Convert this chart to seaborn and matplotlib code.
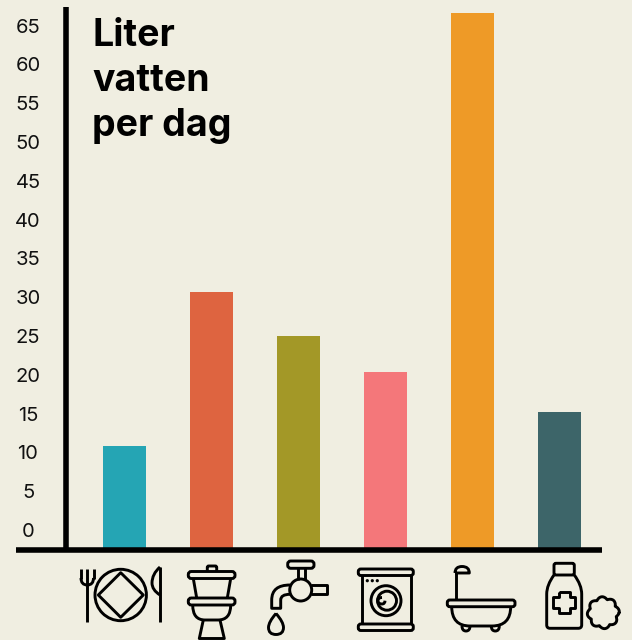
import numpy as np
import pandas as pd
import matplotlib
matplotlib.use("Agg")
import matplotlib.pyplot as plt
import seaborn as sns
from matplotlib.patches import Circle, FancyBboxPatch, PathPatch, Polygon
from matplotlib.path import Path

categories = ["Mat och dryck", "Toalett", "Disk", "Tvätt", "Bad och dusch", "Hygien"]
liters = [10.8, 30.7, 25.0, 20.3, 66.6, 15.2]
bar_colors = ["#25A5B4", "#DE6440", "#A39827", "#F4777A", "#EE9A27", "#3D6569"]
tick_values = list(range(0, 70, 5))
title_lines = ["Liter", "vatten", "per dag"]

BG = "#F0EEE1"
INK = "#000000"
W, H = 632, 640
LW = 2.1  # icon stroke, about 3 px

sns.set_theme(style="white")
plt.rcParams["font.family"] = ["Inter", "DejaVu Sans"]

fig = plt.figure(figsize=(W / 100, H / 100), dpi=100, facecolor=BG)

# axes frame in pixels: x 16-602, y 6.7-549.5
ax = fig.add_axes([16 / W, 1 - 549.5 / H, 586 / W, 542.8 / H], facecolor="none")
ymin = (530 - 549.5) / 7.76
ymax = (530 - 6.7) / 7.76

df = pd.DataFrame({"category": categories, "liters": liters})
heights = df["liters"] - ymin
sns.barplot(x=df["category"], y=heights, hue=df["category"], palette=bar_colors,
            order=categories, hue_order=categories, legend=False, saturation=1,
            width=0.494, linewidth=0, bottom=ymin, ax=ax, errorbar=None)

ax.set_xlim((16 - 124.5) / 87, (602 - 124.5) / 87)
ax.set_ylim(ymin, ymax)
ax.set_xlabel("")
ax.set_ylabel("")
ax.set_xticks([])

for side in ["top", "right"]:
    ax.spines[side].set_visible(False)
ax.spines["left"].set_position(("data", (65.5 - 124.5) / 87))
ax.spines["left"].set_linewidth(4.0)
ax.spines["left"].set_color(INK)
ax.spines["left"].set_capstyle("butt")
ax.spines["bottom"].set_linewidth(4.0)
ax.spines["bottom"].set_color(INK)
ax.spines["bottom"].set_capstyle("butt")

# set_position resets the ticks, so these come after it
ax.set_yticks(tick_values)
ax.tick_params(axis="y", left=False, length=0, pad=27, labelsize=14.5, labelcolor="#111111")
for lab in ax.get_yticklabels():
    lab.set_ha("center")

# overlay in pixel coordinates for the title and the icons
ov = fig.add_axes([0, 0, 1, 1], facecolor="none")
ov.set_xlim(0, W)
ov.set_ylim(H, 0)
ov.axis("off")

for line_text, y_px in zip(title_lines, [36, 81, 126]):
    ov.text(92.5, y_px, line_text, fontsize=27, fontweight="bold", color=INK, va="center")


def line(*pts, closed=False):
    xs, ys = zip(*pts)
    if closed:
        xs, ys = xs + xs[:1], ys + ys[:1]
    ov.plot(xs, ys, color=INK, lw=LW, solid_capstyle="butt", solid_joinstyle="round")


def curve(*pts, codes=None):
    verts = list(pts)
    ov.add_patch(PathPatch(Path(verts, codes), fc="none", ec=INK, lw=LW, joinstyle="round"))


def circle(x, y, r, filled=False):
    ov.add_patch(Circle((x, y), r, fc=INK if filled else BG, ec=INK, lw=0 if filled else LW))


def pill(x0, y0, x1, y1, r=2.5):
    ov.add_patch(FancyBboxPatch((x0 + r, y0 + r), x1 - x0 - 2 * r, y1 - y0 - 2 * r,
                                boxstyle=f"round,pad={r},rounding_size={r}",
                                fc=BG, ec=INK, lw=LW))


C3 = Path.CURVE3
M, L = Path.MOVETO, Path.LINETO

# plate and cutlery
line((87.3, 569), (87.3, 622))
line((81, 569), (81, 579))
line((93.5, 569), (93.5, 579))
curve((81, 578), (81, 585), (87.3, 585), (93.5, 585), (93.5, 578), codes=[M, C3, C3, C3, C3])
circle(120.7, 595, 25.7)
ov.add_patch(Polygon([(120.7, 572.7), (143.3, 595), (120.7, 617.3), (98.3, 595)],
                     closed=True, fc="none", ec=INK, lw=LW, joinstyle="round"))
line((160, 567), (160, 622))
curve((160, 567), (152, 574), (152, 583), (152, 590), (160, 595), codes=[M, C3, C3, C3, C3])

# toilet
pill(207.3, 566, 216.7, 573, r=1.5)
pill(188.3, 571.5, 235, 578.5, r=3)
line((193.3, 578.5), (196.7, 598))
line((230.7, 578.5), (227.3, 598))
pill(188.3, 598, 235, 605, r=3)
curve((192.7, 605), (192.7, 620), (205, 620), (218, 620), (230.7, 620), (230.7, 605),
      codes=[M, C3, C3, L, C3, C3])
line((203.3, 620), (199.3, 638.5), (224.3, 638.5), (220, 620))

# tap
pill(287.7, 561, 314, 568.3, r=3)
line((297.7, 568.3), (297.7, 580))
line((305, 568.3), (305, 580))
line((311, 585), (327.3, 585), (327.3, 594.3), (311, 594.3))
curve((290, 585), (271.7, 585), (271.7, 600), (271.7, 608.3), (280.7, 608.3), (280.7, 600),
      (280.7, 594.3), (290, 594.3), codes=[M, C3, C3, L, L, L, C3, C3])
circle(300.7, 590, 11)
curve((276, 613.5), (268.5, 622), (268.5, 627.5), (268.5, 634.5), (276, 634.5),
      (283.5, 634.5), (283.5, 627.5), (283.5, 622), (276, 613.5),
      codes=[M, C3, C3, C3, C3, C3, C3, C3, C3])

# washing machine
ov.add_patch(plt.Rectangle((361.7, 574), 49.3, 51, fc=BG, ec=INK, lw=LW))
pill(358.3, 569, 413.3, 575.5, r=2.5)
pill(358.3, 624, 413.3, 630.5, r=2.5)
for dot_x in [367.3, 372.3, 377.3]:
    circle(dot_x, 580.7, 1.6, filled=True)
circle(386, 600.7, 15)
circle(387, 600.7, 9.5)
curve((382, 597.5), (378, 597.5), (378, 600.7), (378, 604), (382, 604), (385, 604), (385, 600.7),
      codes=[M, C3, C3, C3, C3, C3, C3])

# bathtub
line((455.7, 600), (455.7, 573))
curve((455, 573), (455, 566.5), (462, 566.5), (469.3, 566.5), (469.3, 573), (455, 573),
      codes=[M, C3, C3, C3, C3, L])
curve((451.7, 606.5), (451.7, 626), (470, 626), (492, 626), (510.7, 626), (510.7, 606.5),
      codes=[M, C3, C3, L, C3, C3])
pill(447.3, 600, 515, 606.7, r=2.5)
for foot_x in [466, 495.3]:
    curve((foot_x - 4, 626), (foot_x - 4, 631), (foot_x, 631), (foot_x + 4, 631), (foot_x + 4, 626),
          codes=[M, C3, C3, C3, C3])

# bottle and sponge
curve((554, 575), (546.7, 585), (546.7, 594), (546.7, 625), (546.7, 628.3), (550, 628.3),
      (578.3, 628.3), (581.7, 628.3), (581.7, 625), (581.7, 594), (581.7, 585), (574.3, 575),
      codes=[M, C3, C3, L, C3, C3, L, C3, C3, L, C3, C3])
pill(554, 563.3, 574.3, 575, r=2)
cx, cy = 564, 602.3
a, b = 10.8, 5.5
line((cx - b, cy - a), (cx + b, cy - a), (cx + b, cy - b), (cx + a, cy - b), (cx + a, cy + b),
     (cx + b, cy + b), (cx + b, cy + a), (cx - b, cy + a), (cx - b, cy + b), (cx - a, cy + b),
     (cx - a, cy - b), (cx - b, cy - b), closed=True)
theta = np.linspace(0, 2 * np.pi, 240)
r = 13.5 + 2.5 * np.abs(np.cos(4 * theta + 0.4))
ov.plot(603.3 + r * np.cos(theta), 612.7 + r * np.sin(theta), color=INK, lw=LW)

fig.savefig("out.png", dpi=100, facecolor=BG)
